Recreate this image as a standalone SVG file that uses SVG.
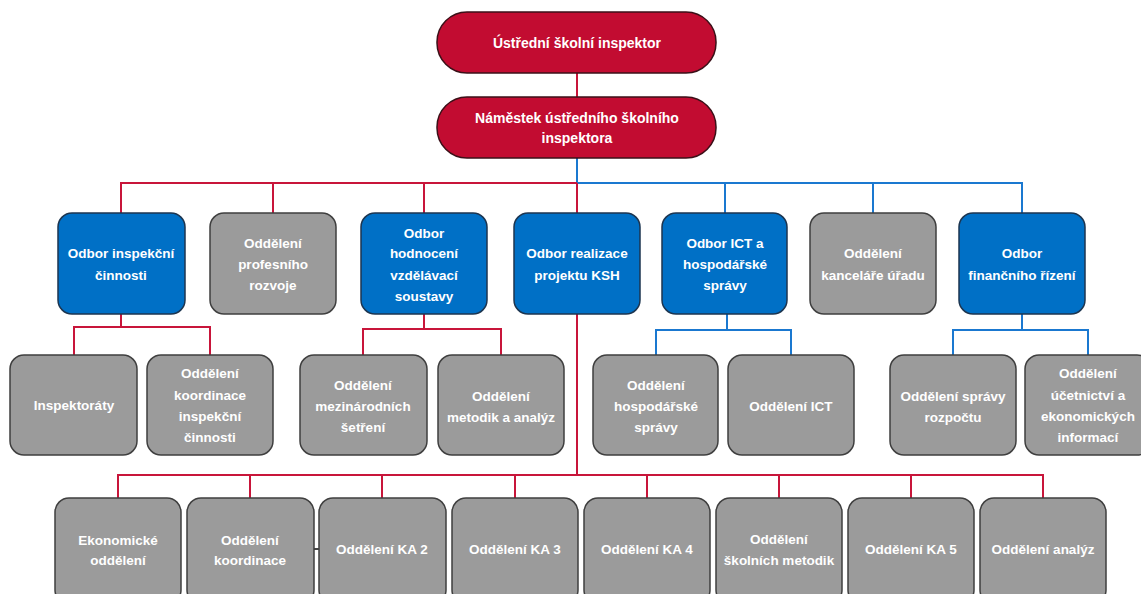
<svg xmlns="http://www.w3.org/2000/svg" width="1141" height="594" viewBox="0 0 1141 594">
<style>
text{font-family:"Liberation Sans",Arial,sans-serif;font-weight:bold;font-size:13.5px;fill:#fff;text-anchor:middle}
.t{font-size:14px}
.red{fill:#C20C31;stroke:#3b1018;stroke-width:1.5}
.blue{fill:#0070C6;stroke:#1c3550;stroke-width:1.5}
.gray{fill:#9B9B9B;stroke:#3f3f3f;stroke-width:1.5}
.lr{stroke:#C8153A;stroke-width:2;fill:none}
.lb{stroke:#1A78D0;stroke-width:2;fill:none}
.ld{stroke:#444;stroke-width:2;fill:none}
</style>
<rect width="1141" height="594" fill="#fff"/>
<g id="connectors">
<path class="lr" d="M577 73V97" stroke-width="1.5"/>
<path class="lb" d="M577 158V183H1022V213M725 183V213M873 183V213"/>
<path class="lr" d="M577 183H121V213M273 183V213M424 183V213M577 183V213"/>
<path class="lr" d="M577 314V475M118 498V475H1043V498M250 475V498M382 475V498M515 475V498M647 475V498M779 475V498M911 475V498"/>
<path class="lr" d="M121 314V327M74 355V327H210V355"/>
<path class="lr" d="M424 314V329M363 355V329H501V355"/>
<path class="lb" d="M727 314V330M656 355V330H791V355"/>
<path class="lb" d="M1022 314V330M953 355V330H1088V355"/>
<path class="ld" d="M314 549H319"/>
</g>
<g id="n_usi"><rect class="red" x="437" y="12" width="279" height="61" rx="30"/><text class="t" x="577" y="48">Ústřední školní inspektor</text></g>
<g id="n_nam"><rect class="red" x="437" y="97" width="279" height="61" rx="30"/><text class="t" x="577" y="123">Náměstek ústředního školního</text><text class="t" x="577" y="143">inspektora</text></g>

<g id="n_oic"><rect class="blue" x="58" y="213" width="127" height="101" rx="14"/><text x="121" y="258">Odbor inspekční</text><text x="121" y="280">činnosti</text></g>
<g id="n_opr"><rect class="gray" x="210" y="213" width="126" height="101" rx="14"/><text x="273" y="248">Oddělení</text><text x="273" y="269">profesního</text><text x="273" y="290">rozvoje</text></g>
<g id="n_ohvs"><rect class="blue" x="361" y="213" width="126" height="101" rx="14"/><text x="424" y="238">Odbor</text><text x="424" y="258">hodnocení</text><text x="424" y="280">vzdělávací</text><text x="424" y="301">soustavy</text></g>
<g id="n_orp"><rect class="blue" x="514" y="213" width="126" height="101" rx="14"/><text x="577" y="258">Odbor realizace</text><text x="577" y="280">projektu KSH</text></g>
<g id="n_oict"><rect class="blue" x="662" y="213" width="125" height="101" rx="14"/><text x="725" y="248">Odbor ICT a</text><text x="725" y="269">hospodářské</text><text x="725" y="290">správy</text></g>
<g id="n_oku"><rect class="gray" x="810" y="213" width="126" height="101" rx="14"/><text x="873" y="258">Oddělení</text><text x="873" y="280">kanceláře úřadu</text></g>
<g id="n_ofr"><rect class="blue" x="959" y="213" width="126" height="101" rx="14"/><text x="1022" y="258">Odbor</text><text x="1022" y="280">finančního řízení</text></g>

<g id="n_insp"><rect class="gray" x="10" y="355" width="127" height="100" rx="14"/><text x="74" y="410">Inspektoráty</text></g>
<g id="n_koord"><rect class="gray" x="147" y="355" width="126" height="100" rx="14"/><text x="210" y="378">Oddělení</text><text x="210" y="400">koordinace</text><text x="210" y="421">inspekční</text><text x="210" y="442">činnosti</text></g>
<g id="n_mez"><rect class="gray" x="300" y="355" width="127" height="100" rx="14"/><text x="363" y="390">Oddělení</text><text x="363" y="411">mezinárodních</text><text x="363" y="432">šetření</text></g>
<g id="n_met"><rect class="gray" x="438" y="355" width="126" height="100" rx="14"/><text x="501" y="401">Oddělení</text><text x="501" y="422">metodik a analýz</text></g>
<g id="n_hosp"><rect class="gray" x="593" y="355" width="125" height="100" rx="14"/><text x="656" y="390">Oddělení</text><text x="656" y="411">hospodářské</text><text x="656" y="432">správy</text></g>
<g id="n_ict"><rect class="gray" x="728" y="355" width="126" height="100" rx="14"/><text x="791" y="411">Oddělení ICT</text></g>
<g id="n_rozp"><rect class="gray" x="890" y="355" width="126" height="100" rx="14"/><text x="953" y="401">Oddělení správy</text><text x="953" y="422">rozpočtu</text></g>
<g id="n_ucet"><rect class="gray" x="1025" y="355" width="126" height="100" rx="14"/><text x="1088" y="378">Oddělení</text><text x="1088" y="400">účetnictví a</text><text x="1088" y="421">ekonomických</text><text x="1088" y="442">informací</text></g>

<g id="n_ek"><rect class="gray" x="55" y="498" width="126" height="106" rx="14"/><text x="118" y="545">Ekonomické</text><text x="118" y="565">oddělení</text></g>
<g id="n_ko"><rect class="gray" x="187" y="498" width="127" height="106" rx="14"/><text x="250" y="545">Oddělení</text><text x="250" y="565">koordinace</text></g>
<g id="n_ka2"><rect class="gray" x="319" y="498" width="127" height="106" rx="14"/><text x="382" y="554">Oddělení KA 2</text></g>
<g id="n_ka3"><rect class="gray" x="452" y="498" width="126" height="106" rx="14"/><text x="515" y="554">Oddělení KA 3</text></g>
<g id="n_ka4"><rect class="gray" x="584" y="498" width="126" height="106" rx="14"/><text x="647" y="554">Oddělení KA 4</text></g>
<g id="n_skm"><rect class="gray" x="716" y="498" width="126" height="106" rx="14"/><text x="779" y="544">Oddělení</text><text x="779" y="565">školních metodik</text></g>
<g id="n_ka5"><rect class="gray" x="848" y="498" width="126" height="106" rx="14"/><text x="911" y="554">Oddělení KA 5</text></g>
<g id="n_an"><rect class="gray" x="980" y="498" width="126" height="106" rx="14"/><text x="1043" y="554">Oddělení analýz</text></g>
</svg>
